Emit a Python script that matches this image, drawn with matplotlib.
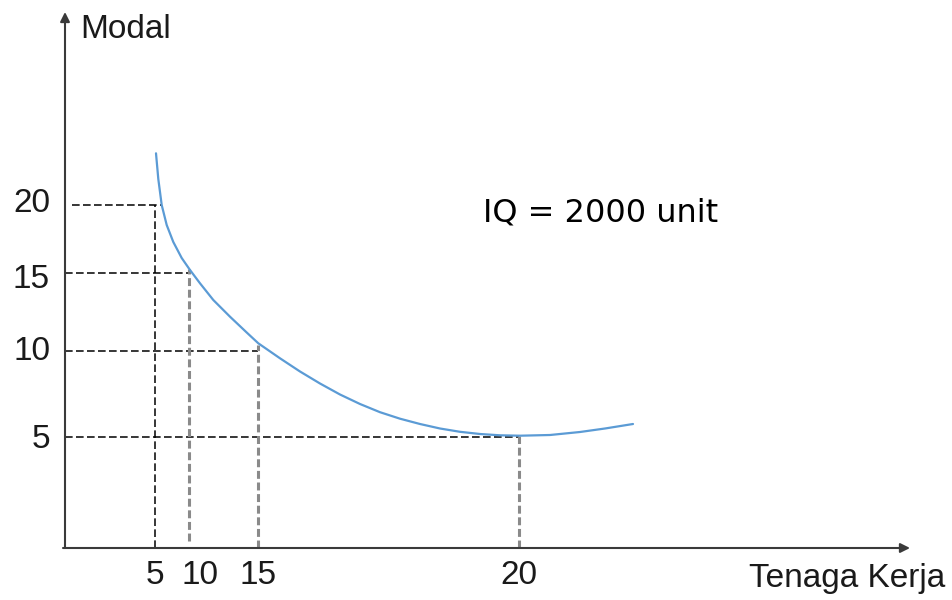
import matplotlib.pyplot as plt
import numpy as np

# axis positions (arbitrary units) of each tick and its label
labor_labels = ["5", "10", "15", "20"]
labor_pos = [9.0, 12.4, 19.3, 45.4]
capital_labels = ["20", "15", "10", "5"]
capital_pos = [34.3, 27.5, 19.7, 11.1]

# isoquant
curve_x = [9.1, 9.33, 9.67, 10.17, 10.83, 11.67, 12.5, 13.5, 14.83, 16.5,
           18.17, 19.33, 21.5, 23.5, 25.5, 27.5, 29.5, 31.5, 33.5, 35.5,
           37.5, 39.5, 41.5, 43.5, 45.5, 48.5, 51.5, 54.0, 56.8]
curve_y = [39.47, 36.9, 34.3, 32.3, 30.6, 29.0, 27.8, 26.47, 24.8, 23.13,
           21.55, 20.47, 18.97, 17.65, 16.45, 15.35, 14.4, 13.58, 12.93,
           12.4, 11.95, 11.62, 11.4, 11.27, 11.23, 11.3, 11.6, 11.95, 12.4]

plt.rcParams['font.family'] = ['Liberation Sans', 'DejaVu Sans']

fig = plt.figure(figsize=(9.53, 6.0), dpi=100)
ax = fig.add_axes([0, 0, 1, 1])
ax.set_xlim(-6.5, 88.8)
ax.set_ylim(-5.2, 54.8)
ax.axis('off')

axis_col = '#3a3a3a'
# axes with arrows
ax.annotate('', xy=(0, 53.6), xytext=(0, 0),
            arrowprops=dict(arrowstyle='-|>', color=axis_col, lw=1.5,
                            mutation_scale=14, shrinkA=0, shrinkB=0))
ax.annotate('', xy=(84.5, 0), xytext=(-0.2, 0),
            arrowprops=dict(arrowstyle='-|>', color=axis_col, lw=1.5,
                            mutation_scale=14, shrinkA=0, shrinkB=0))

# horizontal guides (black dashes)
h_start = [0.7, 0, 0, 0]
h_end = [9.6, 12.5, 19.3, 45.4]
for y, x0, x1 in zip(capital_pos, h_start, h_end):
    ax.plot([x0, x1], [y, y], color='black', lw=1.1, dashes=(5, 2.2))

# vertical guides
ax.plot([labor_pos[0], labor_pos[0]], [0, capital_pos[0]], color='black',
        lw=1.1, dashes=(5, 2.2))
v_top = [27.9, 20.3, 11.2]
v_bot = [0.7, 0, 0]
for x, y1, y0 in zip(labor_pos[1:], v_top, v_bot):
    ax.plot([x, x], [y0, y1], color='#8a8a8a', lw=2.2, dashes=(2.6, 1.2))

# isoquant curve
ax.plot(curve_x, curve_y, color='#5b9bd5', lw=1.6, solid_capstyle='round',
        solid_joinstyle='round')

# tick labels
x_shift = [0, 1.1, 0, 0]
for lab, x, dx in zip(labor_labels, labor_pos, x_shift):
    ax.text(x + dx, -2.7, lab, ha='center', va='center', fontsize=24,
            color='#1a1a1a')
y_shift = [0.2, -0.7, -0.1, -0.3]
for lab, y, dy in zip(capital_labels, capital_pos, y_shift):
    ax.text(-1.5, y + dy, lab, ha='right', va='center', fontsize=24,
            color='#1a1a1a')

ax.text(1.5, 51.8, 'Modal', ha='left', va='center', fontsize=24,
        color='#1a1a1a')
ax.text(88.0, -3.0, 'Tenaga Kerja', ha='right', va='center', fontsize=24,
        color='#1a1a1a')
ax.text(41.8, 33.5, 'IQ = 2000 unit', ha='left', va='center', fontsize=23,
        family=['DejaVu Sans'], color='black')

fig.savefig('out.png', dpi=100)
